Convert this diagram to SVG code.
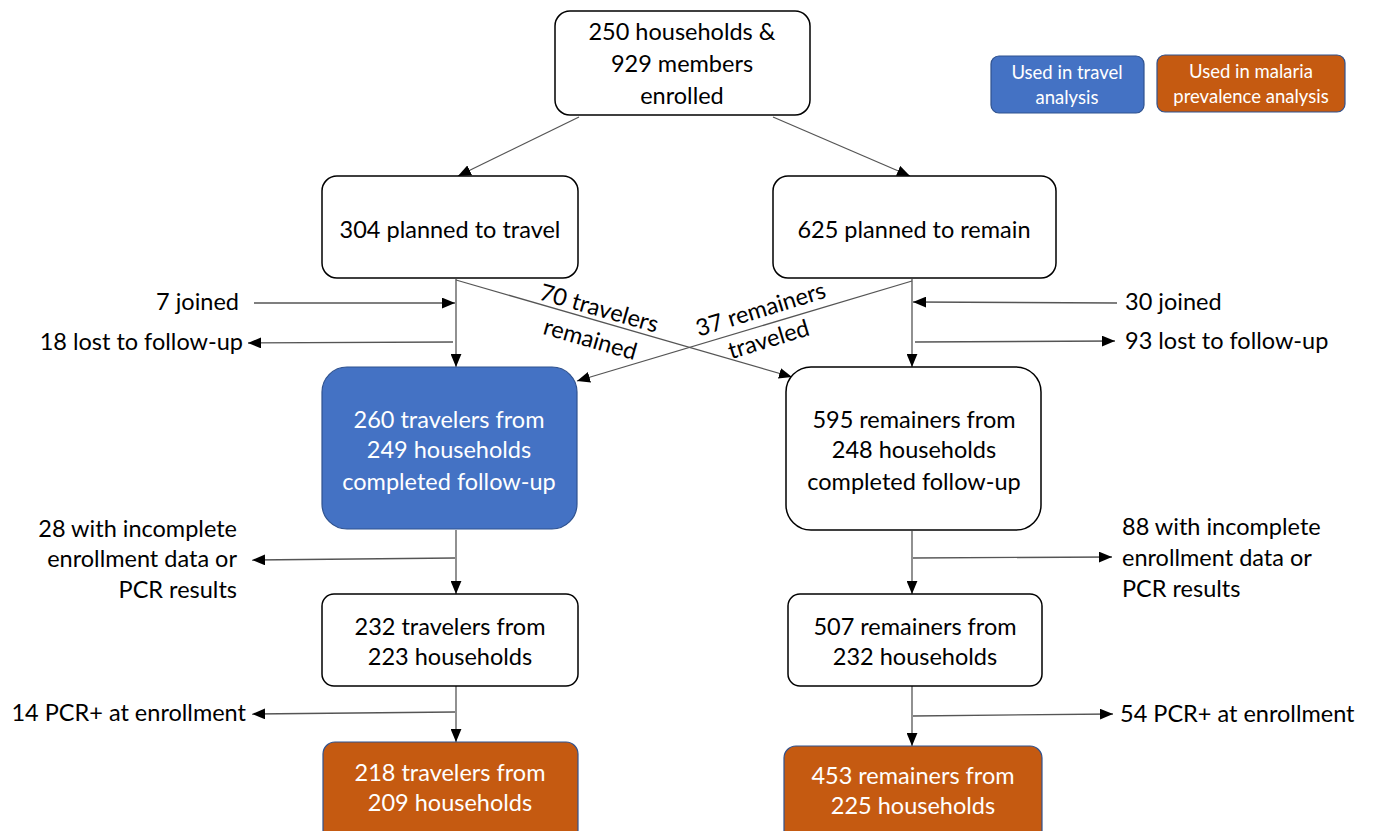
<svg xmlns="http://www.w3.org/2000/svg" width="1374" height="831" viewBox="0 0 1374 831">
<style>
text{font-family:Lato,"Liberation Sans",sans-serif;font-size:23.5px;fill:#000}
.c{text-anchor:middle}
.e{text-anchor:end}
.w{fill:#fff}
.lg{font-size:18.5px}
.box{fill:#fff;stroke:#000;stroke-width:1.5}
.blue{fill:#4472C4;stroke:#2F528F;stroke-width:1.2}
.orange{fill:#C55A11;stroke:#2F528F;stroke-width:1.2}
.ln{stroke:#555;stroke-width:1.3;fill:none;marker-end:url(#ah)}
</style>
<defs>
<marker id="ah" viewBox="0 0 12 10" refX="12" refY="5" markerWidth="13" markerHeight="11" markerUnits="userSpaceOnUse" orient="auto">
<path d="M0,0L12,5L0,10z" fill="#000"/>
</marker>
</defs>
<rect width="1374" height="831" fill="#fff"/>

<g id="connectors">
<line class="ln" x1="579" y1="117" x2="458" y2="176"/>
<line class="ln" x1="773" y1="117" x2="910" y2="176"/>
<line class="ln" x1="456" y1="279" x2="456" y2="367"/>
<line class="ln" x1="912" y1="279" x2="912" y2="367"/>
<line class="ln" x1="254" y1="303" x2="455" y2="303"/>
<line class="ln" x1="453" y1="342" x2="248" y2="343"/>
<line class="ln" x1="1117" y1="303" x2="913" y2="302"/>
<line class="ln" x1="915" y1="342" x2="1115" y2="341"/>
<line class="ln" x1="456" y1="280" x2="792" y2="377"/>
<line class="ln" x1="912" y1="281" x2="577" y2="381"/>
<line class="ln" x1="456" y1="530" x2="456" y2="594"/>
<line class="ln" x1="455" y1="558" x2="252" y2="560"/>
<line class="ln" x1="912" y1="531" x2="912" y2="594"/>
<line class="ln" x1="913" y1="558" x2="1112" y2="557"/>
<line class="ln" x1="456" y1="686" x2="456" y2="742"/>
<line class="ln" x1="455" y1="712" x2="252" y2="714"/>
<line class="ln" x1="912" y1="686" x2="912" y2="746"/>
<line class="ln" x1="913" y1="716" x2="1113" y2="714"/>
</g>

<g id="labels">
<text x="239" y="310" class="e">7 joined</text>
<text x="243" y="350" class="e">18 lost to follow-up</text>
<text x="1125" y="310">30 joined</text>
<text x="1125" y="349">93 lost to follow-up</text>
<text x="237" y="537" class="e">28 with incomplete</text>
<text x="237" y="567" class="e">enrollment data or</text>
<text x="237" y="598" class="e">PCR results</text>
<text x="1122" y="535">88 with incomplete</text>
<text x="1122" y="566">enrollment data or</text>
<text x="1122" y="597">PCR results</text>
<text x="246" y="721" class="e">14 PCR+ at enrollment</text>
<text x="1120" y="722">54 PCR+ at enrollment</text>
<text class="c" transform="translate(597,316) rotate(16)">70 travelers</text>
<text class="c" transform="translate(588,347) rotate(16)">remained</text>
<text class="c" transform="translate(763,317) rotate(-17)">37 remainers</text>
<text class="c" transform="translate(771,347) rotate(-17)">traveled</text>
</g>

<g id="n-enrolled">
<rect class="box" x="555" y="11" width="255" height="104" rx="15"/>
<text x="682" y="40" class="c">250 households &amp;</text>
<text x="682" y="72" class="c">929 members</text>
<text x="682" y="104" class="c">enrolled</text>
</g>

<g id="legend-travel">
<rect class="blue" x="991" y="56" width="153" height="57" rx="8"/>
<text x="1067" y="79" class="c w lg">Used in travel</text>
<text x="1067" y="104" class="c w lg">analysis</text>
</g>
<g id="legend-malaria">
<rect class="orange" x="1157" y="55" width="188" height="57" rx="8"/>
<text x="1251" y="78" class="c w lg">Used in malaria</text>
<text x="1251" y="103" class="c w lg">prevalence analysis</text>
</g>

<g id="n-travel">
<rect class="box" x="322" y="176" width="256" height="102" rx="15"/>
<text x="450" y="238" class="c">304 planned to travel</text>
</g>
<g id="n-remain">
<rect class="box" x="773" y="176" width="283" height="102" rx="15"/>
<text x="914" y="238" class="c">625 planned to remain</text>
</g>

<g id="n-travelers-fu">
<rect class="blue" x="322" y="367" width="255" height="162" rx="25"/>
<text x="449" y="428" class="c w">260 travelers from</text>
<text x="449" y="458" class="c w">249 households</text>
<text x="449" y="490" class="c w">completed follow-up</text>
</g>
<g id="n-remainers-fu">
<rect class="box" x="786" y="367" width="255" height="163" rx="25"/>
<text x="914" y="428" class="c">595 remainers from</text>
<text x="914" y="458" class="c">248 households</text>
<text x="914" y="490" class="c">completed follow-up</text>
</g>

<g id="n-travelers-232">
<rect class="box" x="322" y="594" width="256" height="92" rx="12"/>
<text x="450" y="635" class="c">232 travelers from</text>
<text x="450" y="665" class="c">223 households</text>
</g>
<g id="n-remainers-507">
<rect class="box" x="788" y="594" width="254" height="92" rx="12"/>
<text x="915" y="635" class="c">507 remainers from</text>
<text x="915" y="665" class="c">232 households</text>
</g>

<g id="n-travelers-218">
<rect class="orange" x="323" y="742" width="255" height="100" rx="12"/>
<text x="450" y="781" class="c w">218 travelers from</text>
<text x="450" y="811" class="c w">209 households</text>
</g>
<g id="n-remainers-453">
<rect class="orange" x="784" y="746" width="258" height="100" rx="12"/>
<text x="913" y="784" class="c w">453 remainers from</text>
<text x="913" y="814" class="c w">225 households</text>
</g>
</svg>
